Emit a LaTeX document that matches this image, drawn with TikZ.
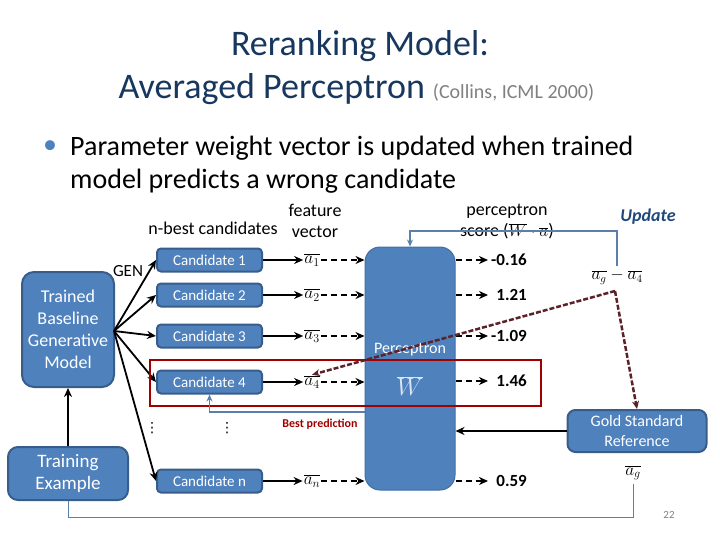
\documentclass[tikz,border=0pt]{standalone}
\usepackage{fontspec}
\setmainfont{Carlito}
\newfontfamily\dejavu{DejaVu Sans}
\usetikzlibrary{arrows.meta}
\definecolor{boxblue}{HTML}{4F81BD}
\definecolor{boxborder}{HTML}{385D8A}
\definecolor{titleblue}{HTML}{17375E}
\definecolor{upblue}{HTML}{1F497D}
\definecolor{darkred}{HTML}{A00000}
\definecolor{maroonline}{HTML}{5C2228}
\definecolor{lineblue}{HTML}{5A7FAA}
\definecolor{wlight}{HTML}{DCE6F2}
\begin{document}
\begin{tikzpicture}[x=1pt,y=-1pt,
  bluebox/.style={draw=boxborder, line width=2pt, fill=boxblue, text=white, align=center},
  cand/.style={bluebox, minimum width=105pt, minimum height=23pt, rounded corners=4pt, font=\fontsize{15}{17}\selectfont},
  blk/.style={-{Stealth[length=9pt,width=8pt]}, line width=1.8pt},
  dsh/.style={blk, dash pattern=on 6pt off 4pt},
  feat/.style={font=\fontsize{17}{19}\selectfont, inner sep=1pt},
  val/.style={anchor=west, font=\fontsize{17}{19}\selectfont\bfseries, inner xsep=3pt},
  lbl/.style={font=\fontsize{18}{21}\selectfont, align=center},
  bline/.style={draw=lineblue, line width=1.5pt}
]
\useasboundingbox (0,0) rectangle (720,540);

% title
\node (t1) at (360,46) {\fontsize{36}{40}\selectfont\color{titleblue}Reranking Model:};
\node[anchor=west] (t2) at (115,89) {\fontsize{36}{40}\selectfont\color{titleblue}Averaged Perceptron {\fontsize{20}{22}\selectfont\color{gray}(Collins, ICML 2000)}};

% bullet
\node (bul) at (50,147) {\fontsize{28}{30}\selectfont\color{boxblue}•};
\node[anchor=west, inner sep=0pt] (b1) at (70,148) {\fontsize{28}{30}\selectfont Parameter weight vector is updated when trained};
\node[anchor=west, inner sep=0pt] (b2) at (70,181) {\fontsize{28}{30}\selectfont model predicts a wrong candidate};

% labels
\node[lbl] (nbest) at (213,228) {n-best candidates};
\node[lbl] (fv) at (315,221) {feature\\vector};
\node[lbl] (ps) at (507,222) {perceptron\\score ($\overline{W}\cdot\overline{a}$)};
\node[lbl, font=\fontsize{18}{20}\selectfont\bfseries\itshape, text=upblue] (upd) at (648,217) {Update};
\node[font=\fontsize{17}{19}\selectfont] (gen) at (128,271) {GEN};

% left boxes
\node[bluebox, minimum width=92pt, minimum height=115pt, rounded corners=12pt, font=\fontsize{18}{22}\selectfont] (trained) at (68,329.5) {Trained\\Baseline\\Generative\\Model};
\node[bluebox, minimum width=120pt, minimum height=53pt, rounded corners=10pt, font=\fontsize{19}{22}\selectfont] (train) at (68,473.5) {Training\\Example};
\draw[blk] (train.north) -- (trained.south);

% perceptron block
\node[fill=boxblue, draw=boxblue!85!black, line width=1pt, minimum width=90pt, minimum height=243pt, rounded corners=15pt] (perc) at (410,368.5) {};
\node[text=white, font=\fontsize{16}{18}\selectfont] (ptxt) at (410,350) {Perceptron};
\node[text=wlight, font=\fontsize{24}{26}\selectfont] (wbar) at (410,386) {$\overline{W}$};

% candidates
\node[cand] (c1) at (209.5,260) {Candidate 1};
\node[cand] (c2) at (209.5,295) {Candidate 2};
\node[cand] (c3) at (209.5,336) {Candidate 3};
\node[cand] (c4) at (209.5,382) {Candidate 4};
\node[cand] (cn) at (209.5,481) {Candidate n};

\coordinate (src) at (114,331);
\foreach \c in {c1,c2,c3,c4,cn} {\draw[blk] (src) -- (\c.west);}

% feature vectors
\node[feat] (a1) at (312,260) {$\overline{a_1}$};
\node[feat] (a2) at (312,295) {$\overline{a_2}$};
\node[feat] (a3) at (312,336) {$\overline{a_3}$};
\node[feat] (a4) at (312,382) {$\overline{a_4}$};
\node[feat] (an) at (312,481) {$\overline{a_n}$};
\foreach \c/\a in {c1/a1,c2/a2,c3/a3,c4/a4,cn/an} {
  \draw[blk] (\c.east) -- (\a.west);
  \draw[dsh] (\a.east) -- (\a.east -| perc.west);
}

% values
\node[val] (v1) at (488,260) {-0.16};
\node[val] (v2) at (488,295) {\phantom{-}1.21};
\node[val] (v3) at (488,336) {-1.09};
\node[val] (v4) at (488,381) {\phantom{-}1.46};
\node[val] (vn) at (488,481) {\phantom{-}0.59};
\foreach \v in {v1,v2,v3,v4,vn} {\draw[dsh] (perc.east |- \v.west) -- (\v.west);}

% dots
\node[font=\dejavu\fontsize{14}{16}\selectfont] (d1) at (152,428) {⋮};
\node[font=\dejavu\fontsize{14}{16}\selectfont] (d2) at (227,428) {⋮};

% red box
\node[draw=darkred, line width=1.5pt, minimum width=391pt, minimum height=46pt] (redbox) at (345.5,383) {};

% best prediction
\node[text=darkred, font=\fontsize{12}{14}\selectfont\bfseries] (bp) at (320,424) {Best prediction};
\coordinate (bpstart) at (365,412);
\draw[bline, -{Stealth[length=7pt,width=6pt]}] (bpstart) -| (c4.south);

% gold standard
\node[bluebox, minimum width=139pt, minimum height=42pt, rounded corners=8pt, font=\fontsize{16}{20}\selectfont] (gold) at (637,431) {Gold Standard\\Reference};
\draw[blk] (gold.west) -- (gold.west -| perc.east);

\node[font=\fontsize{17}{19}\selectfont] (ag) at (633,473) {$\overline{a_g}$};
\node[font=\fontsize{16}{18}\selectfont] (agd) at (617,277) {$\overline{a_g}-\overline{a_4}$};

% update line
\draw[bline, -{Stealth[length=7pt,width=6pt]}] (agd.north) -- ++(0,-35) -| (perc.north);

% bottom line
\coordinate (bl) at (68,517);
\draw[draw=lineblue, line width=1pt] (ag.south) |- (bl) -- (train.south);

% maroon dashed
\coordinate (mc) at (615,291);
\draw[maroonline, line width=2.5pt, dash pattern=on 5pt off 2pt, -{Stealth[length=8pt,width=7pt]}] (mc) -- (a4.north);
\draw[maroonline, line width=2.5pt, dash pattern=on 5pt off 2pt, -{Stealth[length=8pt,width=7pt]}] (mc) -- (gold.north);

% page number
\node[text=gray, font=\fontsize{11}{12}\selectfont] (pg) at (669,515) {22};
\end{tikzpicture}
\end{document}
